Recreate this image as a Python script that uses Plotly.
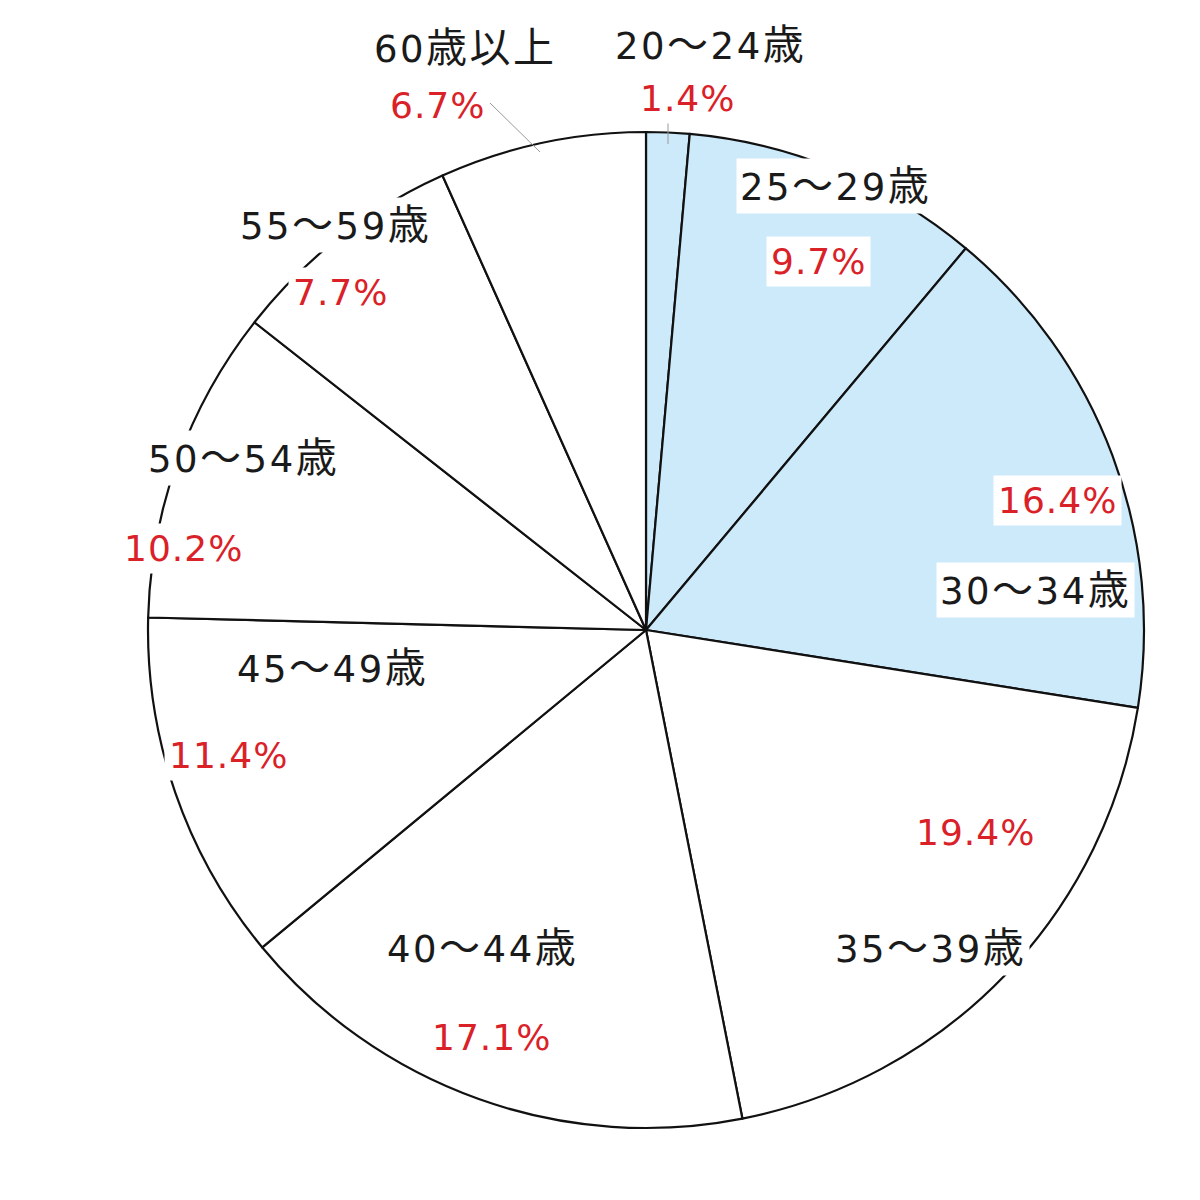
import plotly.graph_objects as go

# Data
categories = ["20～24歳", "25～29歳", "30～34歳", "35～39歳", "40～44歳",
              "45～49歳", "50～54歳", "55～59歳", "60歳以上"]
shares = [1.4, 9.7, 16.4, 19.4, 17.1, 11.4, 10.2, 7.7, 6.7]
pct_labels = ["1.4%", "9.7%", "16.4%", "19.4%", "17.1%", "11.4%", "10.2%", "7.7%", "6.7%"]
highlight = [True, True, True, False, False, False, False, False, False]

BLUE = "#CDEAFB"
RED = "#DA2128"
FONT = "DejaVu Sans, Noto Sans CJK JP"
W = H = 1200

colors = [BLUE if h else "#FFFFFF" for h in highlight]

fig = go.Figure(go.Pie(
    labels=categories,
    values=shares,
    sort=False,
    direction="clockwise",
    rotation=0,
    textinfo="none",
    hoverinfo="label+percent",
    marker=dict(colors=colors, line=dict(color="#111111", width=2.2)),
    domain=dict(x=[(646 - 498) / W, (646 + 498) / W],
                y=[(570 - 498) / H, (570 + 498) / H]),
    showlegend=False,
))

# label placement (pixel centres of category text and percentage text)
label_pos = {
    "20～24歳": ((710, 45), (687, 98)),
    "25～29歳": ((835, 186), (818, 262)),
    "30～34歳": ((1035, 590), (1057, 500)),
    "35～39歳": ((930, 948), (975, 832)),
    "40～44歳": ((482, 948), (492, 1037)),
    "45～49歳": ((332, 668), (228, 755)),
    "50～54歳": ((243, 458), (183, 548)),
    "55～59歳": ((335, 225), (340, 292)),
    "60歳以上": ((465, 48), (437, 105)),
}


def px(x, y):
    return x / W, 1 - y / H


def styled(label):
    # full-width (CJK) characters are drawn a little larger, as in the original
    parts = []
    for ch in label:
        if ord(ch) > 127:
            parts.append(f'<span style="font-size:41px">{ch}</span>')
        else:
            parts.append(ch)
    return '<span style="letter-spacing:2.5px">' + "".join(parts) + "</span>"


annotations = []
for cat, pct in zip(categories, pct_labels):
    (cx, cy), (prx, pry) = label_pos[cat]
    x, y = px(cx, cy)
    annotations.append(dict(
        x=x, y=y, xref="paper", yref="paper",
        text=styled(cat), showarrow=False,
        font=dict(family=FONT, size=37, color="#1a1a1a"),
        bgcolor="#FFFFFF", borderpad=3, xanchor="center", yanchor="middle"))
    x, y = px(prx, pry)
    annotations.append(dict(
        x=x, y=y, xref="paper", yref="paper",
        text=f'<span style="letter-spacing:1px">{pct}</span>', showarrow=False,
        font=dict(family=FONT, size=36, color=RED),
        bgcolor="#FFFFFF", borderpad=4, xanchor="center", yanchor="middle"))

# leader lines for small slices
shapes = [
    dict(type="line", xref="paper", yref="paper",
         x0=490 / W, y0=1 - 103 / H, x1=540 / W, y1=1 - 152 / H,
         line=dict(color="#999999", width=1)),
    dict(type="line", xref="paper", yref="paper",
         x0=668 / W, y0=1 - 116 / H, x1=668 / W, y1=1 - 144 / H,
         line=dict(color="#999999", width=1)),
]

fig.update_layout(
    width=W, height=H,
    margin=dict(l=0, r=0, t=0, b=0),
    paper_bgcolor="#FFFFFF", plot_bgcolor="#FFFFFF",
    annotations=annotations, shapes=shapes,
    font=dict(family=FONT),
)

fig.write_html("out.html")
